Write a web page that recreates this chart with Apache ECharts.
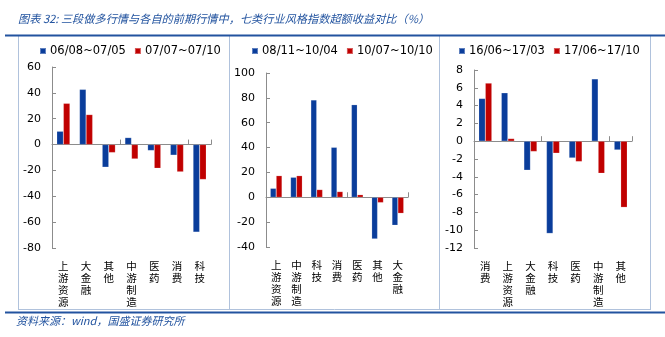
<!DOCTYPE html>
<html><head><meta charset="utf-8">
<script src="https://cdn.jsdelivr.net/npm/echarts@6/dist/echarts.min.js"></script>
<style>html,body{margin:0;padding:0;background:#fff}#c{width:665px;height:337px}</style>
</head><body><div id="c"></div>
<script>
const titleText = '图表 32: 三段做多行情与各自的前期行情中，七类行业风格指数超额收益对比（%）';
const sourceText = '资料来源：wind，国盛证券研究所';

const cats1 = ['上游资源', '大金融', '其他', '中游制造', '医药', '消费', '科技'];
const names1 = ['06/08~07/05', '07/07~07/10'];
const blue1 = [10.3, 42.7, -17.5, 5.4, -4.6, -8.2, -67.7];
const red1 = [31.9, 23.2, -6.2, -11.1, -18.3, -21.1, -27.0];
const yAxis1 = [-80, 60, 20];

const cats2 = ['上游资源', '中游制造', '科技', '消费', '医药', '其他', '大金融'];
const names2 = ['08/11~10/04', '10/07~10/10'];
const blue2 = [7.2, 16.1, 78.3, 40.2, 74.5, -33.5, -22.5];
const red2 = [17.4, 17.4, 6.2, 4.6, 2.1, -4.3, -12.9];
const yAxis2 = [-40, 100, 20];

const cats3 = ['消费', '上游资源', '大金融', '科技', '医药', '中游制造', '其他'];
const names3 = ['16/06~17/03', '17/06~17/10'];
const blue3 = [4.8, 5.44, -3.26, -10.36, -1.88, 7.0, -0.98];
const red3 = [6.53, 0.3, -1.16, -1.35, -2.29, -3.6, -7.43];
const yAxis3 = [-12, 8, 2];

const BLUE = '#0a3d9b';
const RED = '#c00000';
const AXIS = '#8c8c8c';
const FRAME = '#b0c2dc';
const DARK = '#22539f';
const LATIN = 'DejaVu Sans';
const CJK = '"Noto Sans CJK SC"';

const panels = [
  {cats: cats1, names: names1, blue: blue1, red: red1, y: yAxis1, grid: {left: 52, top: 67, width: 159, height: 181}, legendLeft: 39},
  {cats: cats2, names: names2, blue: blue2, red: red2, y: yAxis2, grid: {left: 266, top: 73, width: 142, height: 174}, legendLeft: 251},
  {cats: cats3, names: names3, blue: blue3, red: red3, y: yAxis3, grid: {left: 474, top: 70, width: 158, height: 178}, legendLeft: 458}
];

const grid = [], xAxis = [], yAxis = [], series = [], legend = [];
panels.forEach((p, i) => {
  grid.push(p.grid);
  xAxis.push({
    type: 'category', gridIndex: i, data: p.cats, position: 'bottom',
    axisLine: {show: false, onZero: false}, axisTick: {show: false},
    axisLabel: {interval: 0, margin: 12, fontSize: 10.5, lineHeight: 12, color: '#000', fontFamily: CJK,
      formatter: v => v.split('').join('\n'), verticalAlign: 'top'}
  });
  xAxis.push({
    type: 'category', gridIndex: i, data: p.cats, position: 'top',
    axisLine: {show: true, onZero: true, lineStyle: {color: AXIS, width: 1}},
    axisTick: {show: true, inside: false, length: 5, lineStyle: {color: AXIS}},
    axisLabel: {show: false}
  });
  yAxis.push({
    type: 'value', gridIndex: i, min: p.y[0], max: p.y[1], interval: p.y[2],
    axisLine: {show: true, lineStyle: {color: AXIS}},
    axisTick: {show: true, inside: true, length: 4, lineStyle: {color: AXIS}},
    splitLine: {show: false},
    axisLabel: {fontSize: 11, color: '#000', fontFamily: LATIN, margin: 11}
  });
  [[p.names[0], p.blue, BLUE], [p.names[1], p.red, RED]].forEach(([n, d, c]) => {
    series.push({
      name: n, type: 'bar', xAxisIndex: i * 2, yAxisIndex: i, data: d,
      barGap: '0%', barCategoryGap: '42%',
      itemStyle: {color: c, borderColor: 'rgba(255,255,255,0.35)', borderWidth: 0.5},
      emphasis: {disabled: true}
    });
  });
  legend.push({
    data: p.names, left: p.legendLeft, top: 45, padding: 0, icon: 'rect', itemWidth: 6, itemHeight: 6, itemGap: 8,
    textStyle: {fontFamily: LATIN, fontSize: 11.5, color: '#000', padding: [0, 0, 0, -1]},
    selectedMode: false
  });
});

const chart = echarts.init(document.getElementById('c'), null, {renderer: 'canvas'});
chart.setOption({
  animation: false,
  backgroundColor: '#fff',
  title: {
    text: titleText, left: 13, top: 8,
    textStyle: {fontSize: 11.2, fontStyle: 'italic', fontWeight: 'normal', color: DARK, fontFamily: CJK}
  },
  grid, xAxis, yAxis, series, legend,
  graphic: [
    {type: 'line', silent: true, shape: {x1: 18.5, y1: 36, x2: 18.5, y2: 309}, style: {stroke: FRAME, lineWidth: 1}},
    {type: 'line', silent: true, shape: {x1: 229.5, y1: 36, x2: 229.5, y2: 309}, style: {stroke: FRAME, lineWidth: 1}},
    {type: 'line', silent: true, shape: {x1: 439.5, y1: 36, x2: 439.5, y2: 309}, style: {stroke: FRAME, lineWidth: 1}},
    {type: 'line', silent: true, shape: {x1: 650.5, y1: 36, x2: 650.5, y2: 309}, style: {stroke: FRAME, lineWidth: 1}},
    {type: 'line', silent: true, shape: {x1: 18, y1: 309.5, x2: 651, y2: 309.5}, style: {stroke: FRAME, lineWidth: 1}},
    {type: 'line', silent: true, shape: {x1: 5, y1: 35.5, x2: 665, y2: 35.5}, style: {stroke: DARK, lineWidth: 2}},
    {type: 'line', silent: true, shape: {x1: 5, y1: 312.5, x2: 665, y2: 312.5}, style: {stroke: DARK, lineWidth: 2}},
    {type: 'text', silent: true, left: 16, top: 315,
      style: {text: sourceText, fontSize: 11, fontStyle: 'italic', fill: DARK, fontFamily: CJK}}
  ]
});
</script></body></html>
